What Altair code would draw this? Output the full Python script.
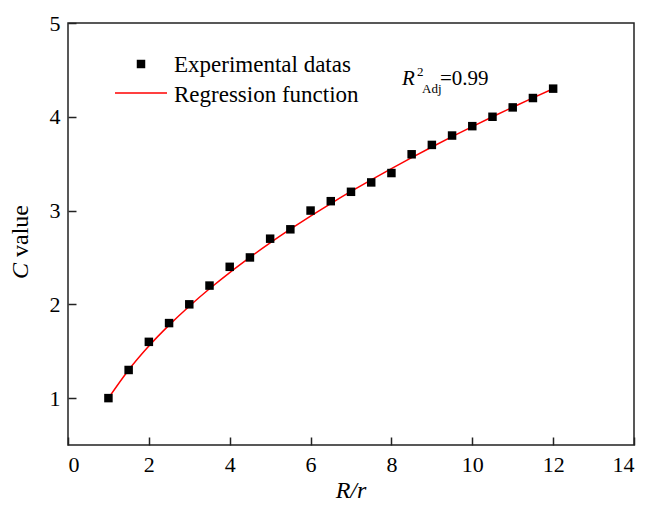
import altair as alt
import pandas as pd

FONT = "Liberation Serif"

r_ratio = [1, 1.5, 2, 2.5, 3, 3.5, 4, 4.5, 5, 5.5, 6, 6.5, 7, 7.5, 8, 8.5, 9, 9.5, 10, 10.5, 11, 11.5, 12]
c_exp = [1.0, 1.3, 1.6, 1.8, 2.0, 2.2, 2.4, 2.5, 2.7, 2.8, 3.0, 3.1, 3.2, 3.3, 3.4, 3.6, 3.7, 3.8, 3.9, 4.0, 4.1, 4.2, 4.3]

# Regression curve
fit_r = [1, 1.5, 2, 2.5, 3, 3.5, 4, 4.5, 5, 5.5, 6, 6.5, 7, 7.5, 8, 8.5, 9, 9.5, 10, 10.5, 11, 11.5, 12]
fit_c = [1.0, 1.30, 1.555, 1.778, 1.98, 2.166, 2.339, 2.501, 2.655, 2.801, 2.941, 3.075, 3.204, 3.328,
         3.448, 3.565, 3.678, 3.788, 3.895, 4.0, 4.102, 4.202, 4.299]

x_ticks = [0, 2, 4, 6, 8, 10, 12, 14]
y_ticks = [1, 2, 3, 4, 5]
x_domain = [0, 14]
y_domain = [0.5, 5]

legend_labels = ["Experimental datas", "Regression function"]

W, H = 566, 422

df_exp = pd.DataFrame({"R": r_ratio, "C": c_exp})
df_fit = pd.DataFrame({"R": fit_r, "C": fit_c})

sx = alt.Scale(domain=x_domain, nice=False, zero=False)
sy = alt.Scale(domain=y_domain, nice=False, zero=False)

lab = dict(labelFont=FONT, labelFontSize=22, labelColor="black", grid=False, title=None)

line = alt.Chart(df_fit).mark_line(color="#ff0000", strokeWidth=1.5, interpolate="monotone").encode(
    x=alt.X("R:Q", scale=sx, axis=alt.Axis(orient="bottom", values=x_ticks, ticks=False, domain=False,
                                           labelPadding=9, format="d", **lab)),
    y=alt.Y("C:Q", scale=sy, axis=alt.Axis(orient="left", values=y_ticks, ticks=False, domain=False,
                                           labelPadding=8, format="d", **lab)),
)

points = alt.Chart(df_exp).mark_point(shape="square", filled=True, size=72, color="black", opacity=1).encode(
    x=alt.X("R:Q", scale=sx, axis=alt.Axis(orient="top", offset=-H, values=x_ticks, ticks=True, tickSize=8,
                                           tickColor="#222", tickWidth=1.5, labels=False, domain=False,
                                           grid=False, title=None)),
    y=alt.Y("C:Q", scale=sy, axis=alt.Axis(orient="right", offset=-W, values=y_ticks, ticks=True, tickSize=8,
                                           tickColor="#222", tickWidth=1.5, labels=False, domain=False,
                                           grid=False, title=None)),
)


def txt(s, x, y, size, style="normal", align="left", angle=0):
    return alt.Chart(pd.DataFrame({"t": [s]})).mark_text(
        font=FONT, fontSize=size, fontStyle=style, align=align, baseline="alphabetic",
        angle=angle, color="black"
    ).encode(text="t:N", x=alt.value(x), y=alt.value(y))


# legend
leg_sq = alt.Chart(pd.DataFrame({"t": [legend_labels[0]]})).mark_point(
    shape="square", filled=True, size=72, color="black", opacity=1
).encode(x=alt.value(73), y=alt.value(41))
leg_ln = alt.Chart(pd.DataFrame({"t": [legend_labels[1]]})).mark_rule(
    color="#ff0000", strokeWidth=1.5
).encode(x=alt.value(47), x2=alt.value(99), y=alt.value(70))
leg_t1 = txt(legend_labels[0], 106, 49, 23)
leg_t2 = txt(legend_labels[1], 106, 79, 23)

# R^2_Adj annotation
r1 = txt("R", 334, 62, 21, style="italic")
r2 = txt("2", 349, 53, 13)
r3 = txt("Adj", 354, 70, 13)
r4 = txt("=0.99", 372, 62, 21)

# axis titles
xt = txt("R/r", 283, 475, 24, style="italic", align="center")
yt1 = txt("C", -40, 256, 24, style="italic", angle=270)
yt2 = txt("value", -40, 234, 24, angle=270)

chart = alt.layer(
    line, points, leg_sq, leg_ln, leg_t1, leg_t2, r1, r2, r3, r4, xt, yt1, yt2
).resolve_axis(x="independent", y="independent").properties(
    width=W, height=H,
    padding={"left": 60, "top": 15, "right": 20, "bottom": 60},
    autosize=alt.AutoSizeParams(type="none"),
).configure(background="white").configure_view(stroke="#222", strokeWidth=1.5)

chart.save("out.html", embed_options={"renderer": "svg", "actions": False})
